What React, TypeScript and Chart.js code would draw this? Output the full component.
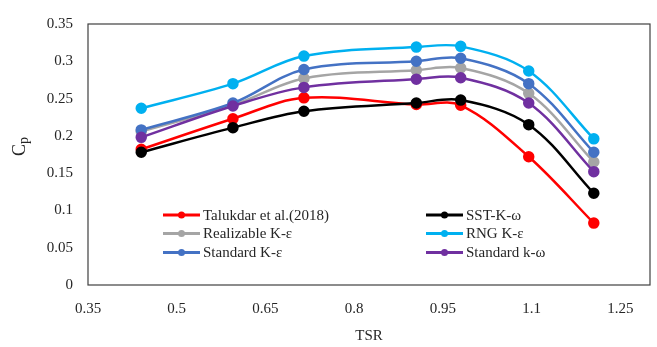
import React, { useEffect, useRef } from "react";
import { Chart, registerables } from "chart.js";

Chart.register(...registerables);

const tsr = [0.44, 0.595, 0.715, 0.905, 0.98, 1.095, 1.205];
const talukdar = [0.182, 0.223, 0.251, 0.242, 0.241, 0.172, 0.083];
const sstKw = [0.178, 0.211, 0.233, 0.244, 0.248, 0.215, 0.123];
const realizableKe = [0.206, 0.241, 0.277, 0.288, 0.291, 0.257, 0.165];
const rngKe = [0.237, 0.27, 0.307, 0.319, 0.32, 0.287, 0.196];
const standardKe = [0.208, 0.244, 0.289, 0.3, 0.304, 0.27, 0.178];
const standardKw = [0.198, 0.24, 0.265, 0.276, 0.278, 0.244, 0.152];

const xTicks = [0.35, 0.5, 0.65, 0.8, 0.95, 1.1, 1.25];
const yTicks = [0, 0.05, 0.1, 0.15, 0.2, 0.25, 0.3, 0.35];

const seriesNames = [
  "Talukdar et al.(2018)",
  "SST-K-ω",
  "Realizable K-ε",
  "RNG K-ε",
  "Standard K-ε",
  "Standard k-ω",
];
const seriesValues = [talukdar, sstKw, realizableKe, rngKe, standardKe, standardKw];
const seriesColors = ["#FF0000", "#000000", "#A5A5A5", "#00B0F0", "#4472C4", "#7030A0"];
const seriesOrder = [5, 4, 3, 2, 1, 0];

const SERIF = "'Liberation Serif', 'Times New Roman', serif";

const boxPlugin = {
  id: "boxPlugin",
  afterDraw(chart: any) {
    const { ctx, chartArea } = chart;
    ctx.save();
    ctx.strokeStyle = "#404040";
    ctx.lineWidth = 1.2;
    ctx.strokeRect(chartArea.left, chartArea.top, chartArea.right - chartArea.left, chartArea.bottom - chartArea.top);
    ctx.restore();
  },
};

const yTitlePlugin = {
  id: "yTitlePlugin",
  afterDraw(chart: any) {
    const { ctx } = chart;
    ctx.save();
    ctx.fillStyle = "#262626";
    ctx.translate(25, 156);
    ctx.rotate(-Math.PI / 2);
    ctx.textBaseline = "alphabetic";
    ctx.textAlign = "left";
    ctx.font = `18px ${SERIF}`;
    ctx.fillText("C", 0, 0);
    const w = ctx.measureText("C").width;
    ctx.font = `14px ${SERIF}`;
    ctx.fillText("p", w, 2.5);
    ctx.restore();
  },
};

const legendPlugin = {
  id: "legendPlugin",
  afterDraw(chart: any) {
    const { ctx, chartArea } = chart;
    const ds = chart.data.datasets;
    const colX = [chartArea.left + 75, chartArea.left + 338];
    const rowY = [chartArea.top + 191, chartArea.top + 209.5, chartArea.top + 228.5];
    ctx.save();
    ctx.font = `15px ${SERIF}`;
    ctx.textBaseline = "middle";
    ctx.textAlign = "left";
    ds.forEach((d: any, i: number) => {
      const col = i % 2;
      const row = Math.floor(i / 2);
      const x = colX[col];
      const y = rowY[row];
      ctx.strokeStyle = d.borderColor;
      ctx.lineWidth = 3;
      ctx.beginPath();
      ctx.moveTo(x, y);
      ctx.lineTo(x + 37, y);
      ctx.stroke();
      ctx.fillStyle = d.borderColor;
      ctx.beginPath();
      ctx.arc(x + 18.5, y, 3.5, 0, Math.PI * 2);
      ctx.fill();
      ctx.fillStyle = "#262626";
      ctx.fillText(d.label, x + 40, y + 1);
    });
    ctx.restore();
  },
};

function fmt(v: number) {
  return String(Number(v.toFixed(2)));
}

export default function App() {
  const ref = useRef<HTMLCanvasElement | null>(null);
  useEffect(() => {
    if (!ref.current) return;
    const chart = new Chart(ref.current, {
      type: "line",
      data: {
        datasets: seriesNames.map((name, i) => ({
          label: name,
          data: tsr.map((x, j) => ({ x, y: seriesValues[i][j] })),
          borderColor: seriesColors[i],
          backgroundColor: seriesColors[i],
          pointBackgroundColor: seriesColors[i],
          pointBorderColor: seriesColors[i],
          pointRadius: 4.5,
          borderWidth: 2.5,
          tension: 0.35,
          fill: false,
          order: seriesOrder[i],
        })),
      },
      options: {
        animation: false,
        responsive: false,
        layout: { padding: { top: 18, right: 6, left: 0, bottom: 0 } },
        plugins: {
          legend: { display: false },
          tooltip: { enabled: false },
        },
        scales: {
          x: {
            type: "linear",
            min: 0.35,
            max: 1.3,
            afterBuildTicks: (scale: any) => {
              scale.ticks = xTicks.map((v) => ({ value: v }));
            },
            afterFit: (scale: any) => {
              scale.height = 62;
            },
            grid: { display: false, drawTicks: false },
            border: { display: false },
            ticks: {
              padding: 15,
              color: "#262626",
              font: { family: SERIF, size: 15 },
              maxRotation: 0,
              autoSkip: false,
              callback: (v: any) => fmt(Number(v)),
            },
            title: {
              display: true,
              text: "TSR",
              color: "#262626",
              font: { family: SERIF, size: 15 },
              padding: { top: 0, bottom: 2 },
            },
          },
          y: {
            type: "linear",
            min: 0,
            max: 0.35,
            afterBuildTicks: (scale: any) => {
              scale.ticks = yTicks.map((v) => ({ value: v }));
            },
            afterFit: (scale: any) => {
              scale.width = 88;
            },
            grid: { display: false, drawTicks: false },
            border: { display: false },
            ticks: {
              padding: 15,
              color: "#262626",
              font: { family: SERIF, size: 15 },
              autoSkip: false,
              callback: (v: any) => fmt(Number(v)),
            },
          },
        },
      },
      plugins: [boxPlugin, yTitlePlugin, legendPlugin],
    });
    return () => chart.destroy();
  }, []);
  return (
    <div style={{ position: "absolute", left: 0, top: 0, width: 657, height: 347, background: "#fff" }}>
      <canvas ref={ref} width={657} height={347} style={{ width: 657, height: 347, display: "block" }} />
    </div>
  );
}
